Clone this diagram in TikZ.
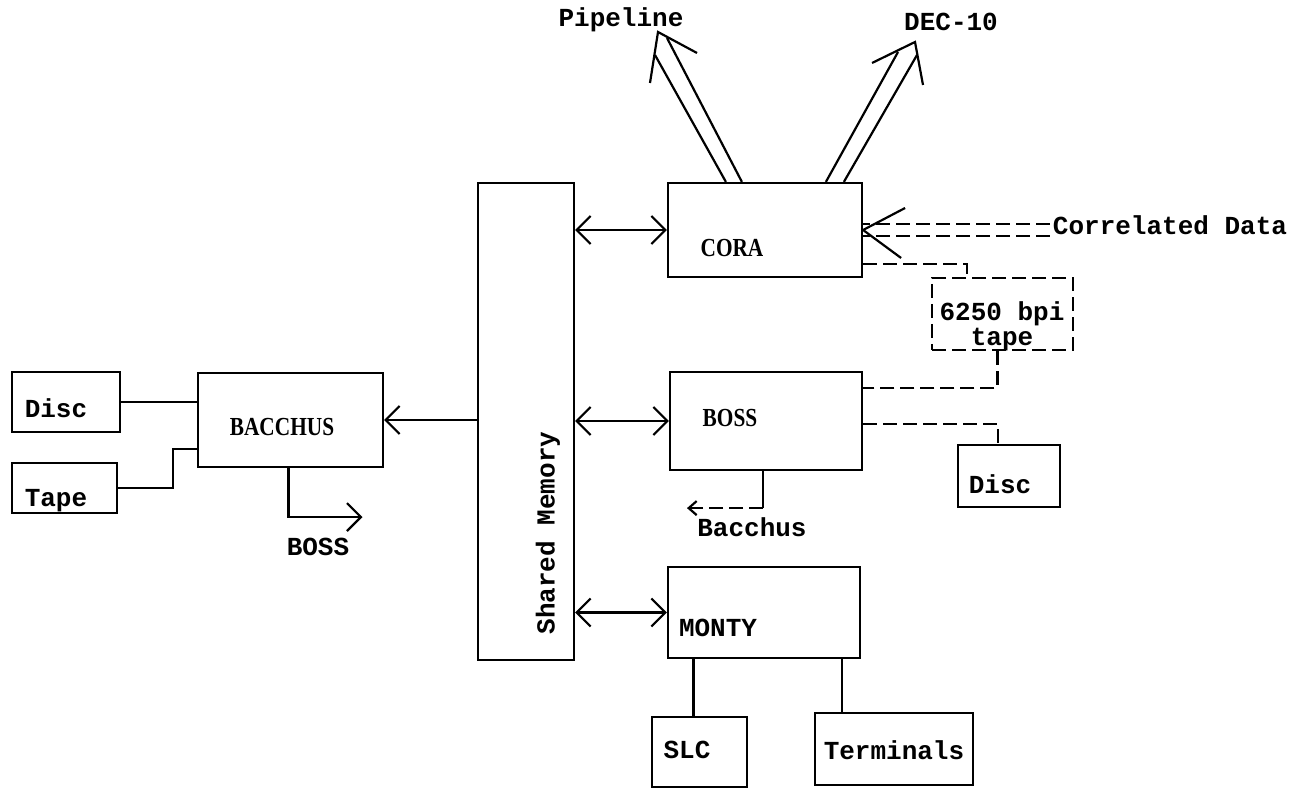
\documentclass[tikz,border=0pt]{standalone}
\usepackage{fontspec}
\setmainfont{Liberation Serif}
\setmonofont{Liberation Mono}
\newfontfamily\narrowserif[FakeStretch=0.82]{Liberation Serif}
\usetikzlibrary{arrows.meta,positioning}

\begin{document}
\begin{tikzpicture}[
  x=0.5pt, y=-0.5pt,
  line width=1.1pt,
  box/.style={draw, inner sep=0pt},
  dbox/.style={box, dash pattern=on 7pt off 3pt},
  txt/.style={font=\fontsize{13}{15}\selectfont\ttfamily\bfseries, inner sep=1pt},
  sysname/.style={font=\fontsize{13}{15}\selectfont\narrowserif\bfseries, inner sep=1pt},
  dsh/.style={dash pattern=on 7pt off 3pt},
  line/.style={-{Straight Barb[length=7pt,width=14pt]}},
  both/.style={{Straight Barb[length=7pt,width=14pt]}-{Straight Barb[length=7pt,width=14pt]}}
]
\useasboundingbox (0,0) rectangle (1291,791);

% boxes
\node[box, minimum width=48pt, minimum height=238.5pt] (mem) at (526,421.5) {};
\node[box, minimum width=97pt, minimum height=47pt] (cora) at (765,230) {};
\node[box, minimum width=96pt, minimum height=49pt] (boss) at (766,421) {};
\node[box, minimum width=96pt, minimum height=45.5pt] (monty) at (764,612.5) {};
\node[box, minimum width=47.5pt, minimum height=35pt] (slc) at (699.5,752) {};
\node[box, minimum width=79pt, minimum height=36pt] (term) at (894,749) {};
\node[box, minimum width=92.5pt, minimum height=47pt] (bacchus) at (290.5,420) {};
\node[box, minimum width=54pt, minimum height=30pt] (disc) at (66,402) {};
\node[box, minimum width=52.5pt, minimum height=25pt] (tape) at (64.5,488) {};
\node[dbox, minimum width=70.5pt, minimum height=36pt] (bigtape) at (1002.5,314) {};
\node[box, minimum width=51pt, minimum height=31pt] (disctwo) at (1009,476) {};

% box texts
\node[txt, rotate=90] (memlbl) at (548,533) {Shared Memory};
\node[sysname] (coralbl) at (732,248) {CORA};
\node[sysname] (bosslbl) at (730,418) {BOSS};
\node[txt] (montylbl) at (718,628) {MONTY};
\node[txt] (slclbl) at (687,750) {SLC};
\node[txt] (termlbl) at (894,750) {Terminals};
\node[sysname] (bacchuslbl) at (282,427) {BACCHUS};
\node[txt] (disclbl) at (56,408) {Disc};
\node[txt] (tapelbl) at (56,501) {Tape};
\node[txt, align=center, font=\fontsize{13}{12.5}\selectfont\ttfamily\bfseries] (bigtapelbl) at (1002,326) {6250 bpi\\tape};
\node[txt] (disctwolbl) at (1000,484) {Disc};

% outside labels
\node[txt] (pipe) at (621,20) {Pipeline};
\node[txt] (dec) at (951,22) {DEC-10};
\node[txt] (corr) at (1170,225) {Correlated Data};
\node[txt] (tobacchus) at (752,527) {Bacchus};
\node[txt] (toboss) at (318,547) {BOSS};

% shared memory links
\draw[both] (mem.east |- cora.west) -- (cora.west);
\draw[both] (mem.east |- boss.west) -- (boss.west);
\draw[both] (mem.east |- monty.west) -- (monty.west);
\draw[line] (mem.west |- bacchus.east) -- (bacchus.east);

% pipeline and DEC-10 outputs
\coordinate (piptip) at (658,32);
\coordinate (dectip) at (915,42);
\draw ([shift={(59,0)}]cora.north west) -- (655,55);
\draw ([shift={(75,0)}]cora.north west) -- (667,38);
\draw (650,83) -- (piptip) -- (697,53);
\draw ([shift={(159,0)}]cora.north west) -- (898,52);
\draw ([shift={(177,0)}]cora.north west) -- (917,55);
\draw (872,63) -- (dectip) -- (923,85);

% correlated data input
\draw[dsh] ([yshift=3pt]cora.east -| corr.west) -- ([yshift=3pt]cora.east);
\draw[dsh] ([yshift=-3pt]cora.east -| corr.west) -- ([yshift=-3pt]cora.east);
\draw ([shift={(42,-22)}]cora.east) -- (cora.east) -- ([shift={(38,28)}]cora.east);

% tape and disc
\draw[dsh] ([shift={(0,34)}]cora.east) -| ([shift={(36,0)}]bigtape.north west);
\draw[dsh] ([shift={(-5,0)}]bigtape.south) |- ([shift={(0,-33)}]boss.east);
\draw[dsh] ([shift={(0,3)}]boss.east) -| ([shift={(-11,0)}]disctwo.north);

% boss to bacchus
\draw ([shift={(-3,0)}]boss.south) -- ++(0,37) coordinate (bb);
\draw[dsh, -{Straight Barb[length=4pt,width=7pt]}] (bb) -- ++(-76,0);

% bacchus peripherals
\draw (disc.east) -- (disc.east -| bacchus.west);
\draw (tape.east) -- ++(55,0) |- ([shift={(0,29)}]bacchus.west);
\draw[line] ([shift={(-2,0)}]bacchus.south) -- ++(0,49) -- ++(74,0) coordinate (tob);

% monty peripherals
\draw ([shift={(-6,0)}]slc.north) -- ([shift={(-6,0)}]slc.north |- monty.south);
\draw ([shift={(-52,0)}]term.north) -- ([shift={(-52,0)}]term.north |- monty.south);
\end{tikzpicture}
\end{document}
